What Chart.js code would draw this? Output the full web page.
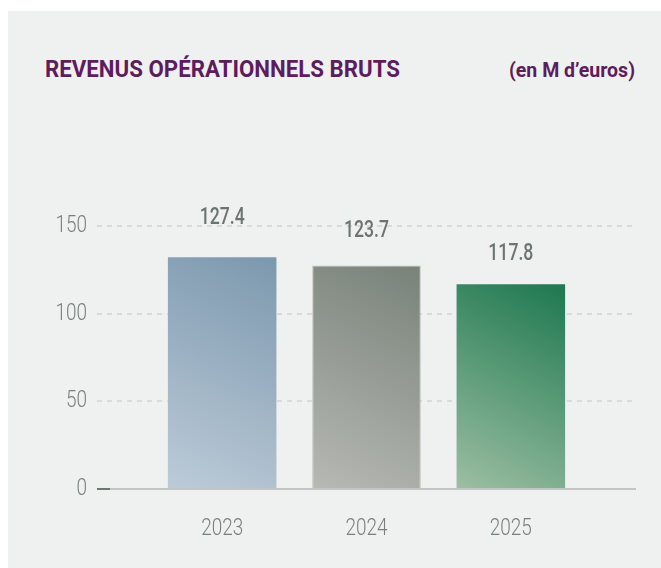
<!DOCTYPE html>
<html>
<head>
<meta charset="utf-8">
<script src="https://cdn.jsdelivr.net/npm/chart.js@4"></script>
<style>
  html, body { margin: 0; padding: 0; background: #fff; }
  #wrap { position: relative; width: 661px; height: 568px; overflow: hidden; }
  #panel { position: absolute; left: 8px; top: 11px; right: 0; bottom: 0; background: #eff1f0; }
  .head { position: absolute; color: #5e1b5f; font-family: Roboto, 'Liberation Sans', sans-serif; font-weight: bold; line-height: 1; white-space: nowrap; transform-origin: 0 0; }
  #title { left: 45px; top: 57px; font-size: 24px; }
  #unit { left: 509px; top: 60px; font-size: 20px; }
  canvas { position: absolute; left: 0; top: 0; }
</style>
</head>
<body>
<div id="wrap">
  <div id="panel"></div>
  <div class="head" id="title">REVENUS OPÉRATIONNELS BRUTS</div>
  <div class="head" id="unit">(en M d’euros)</div>
  <canvas id="barChart" width="661" height="568"></canvas>
</div>
<script>
// données
const years = ['2023', '2024', '2025'];
const barValues = [132.2, 127.5, 116.8];         // hauteur des barres
const valueLabels = ['127.4', '123.7', '117.8']; // valeurs affichées
const yTicks = [0, 50, 100, 150];

const FONT = "Roboto, 'Liberation Sans', sans-serif";
const barColors = [
  ['#bccbd8', '#7c98ae'],
  ['#b7b9b4', '#788279'],
  ['#9cbfa2', '#1d7850']
];
const labelOffsets = [39, 34, 30];

// police étroite : on comprime le texte horizontalement
function squeeze(el, width) {
  el.style.transform = 'scaleX(' + (width / el.getBoundingClientRect().width) + ')';
}
squeeze(document.getElementById('title'), 355);
squeeze(document.getElementById('unit'), 126);

function drawNarrow(ctx, text, x, y, align, sx) {
  const w = ctx.measureText(text).width * sx;
  let left = x - w / 2;
  if (align === 'right') left = x - w;
  ctx.save();
  ctx.translate(left, y);
  ctx.scale(sx, 1);
  ctx.textAlign = 'left';
  ctx.fillText(text, 0, 0);
  ctx.restore();
}

function barGradient(c) {
  const chart = c.chart;
  const i = c.dataIndex;
  if (!chart.chartArea) return barColors[i][1];
  const x = chart.scales.x, y = chart.scales.y;
  const cx = x.getPixelForValue(i);
  const half = chart.chartArea.width / years.length * 0.752 / 2;
  const g = chart.ctx.createLinearGradient(cx - half, y.getPixelForValue(0), cx + half, y.getPixelForValue(barValues[i]));
  g.addColorStop(0, barColors[i][0]);
  g.addColorStop(1, barColors[i][1]);
  return g;
}

// grille pointillée plus large que la zone du graphique
const gridLines = {
  id: 'gridLines',
  beforeDatasetsDraw(chart) {
    const { ctx, chartArea, scales: { y } } = chart;
    ctx.save();
    ctx.setLineDash([5, 5]);
    ctx.strokeStyle = '#d1d4d2';
    ctx.lineWidth = 1.5;
    y.ticks.forEach(t => {
      if (t.value === 0) return;
      const py = Math.round(y.getPixelForValue(t.value));
      ctx.beginPath();
      ctx.moveTo(chartArea.left - 53, py);
      ctx.lineTo(chartArea.right + 53, py);
      ctx.stroke();
    });
    ctx.restore();
  },
  afterDatasetsDraw(chart) {
    const { ctx, chartArea, scales: { y } } = chart;
    const py = y.getPixelForValue(0);
    ctx.save();
    ctx.lineWidth = 2;
    ctx.strokeStyle = '#c3c5c2';
    ctx.beginPath();
    ctx.moveTo(chartArea.left - 53, py);
    ctx.lineTo(chartArea.right + 53, py);
    ctx.stroke();
    ctx.strokeStyle = '#6f7771';
    ctx.beginPath();
    ctx.moveTo(chartArea.left - 53, py);
    ctx.lineTo(chartArea.left - 40, py);
    ctx.stroke();
    ctx.restore();
  }
};

// étiquettes des axes + valeurs au-dessus des barres
const narrowText = {
  id: 'narrowText',
  afterDatasetsDraw(chart) {
    const { ctx, chartArea, scales: { x, y } } = chart;
    ctx.save();
    ctx.textBaseline = 'middle';

    ctx.font = '300 24px ' + FONT;
    ctx.fillStyle = '#78807b';
    const sx = 42 / ctx.measureText('2023').width;
    years.forEach((t, i) => drawNarrow(ctx, t, x.getPixelForValue(i), chartArea.bottom + 40, 'center', sx));
    y.ticks.forEach(t => drawNarrow(ctx, String(t.value), chartArea.left - 63, y.getPixelForValue(t.value), 'right', sx));

    ctx.font = '500 24px ' + FONT;
    ctx.fillStyle = '#6c7470';
    const sv = 45 / ctx.measureText(valueLabels[0]).width;
    chart.getDatasetMeta(0).data.forEach((bar, i) => {
      drawNarrow(ctx, valueLabels[i], bar.x, bar.y - labelOffsets[i], 'center', sv);
    });
    ctx.restore();
  }
};

new Chart(document.getElementById('barChart'), {
  type: 'bar',
  data: {
    labels: years,
    datasets: [{
      data: barValues,
      backgroundColor: barGradient,
      borderColor: ['rgba(0,0,0,0)', '#bdbfbb', 'rgba(0,0,0,0)'],
      borderWidth: [0, 1, 0],
      borderSkipped: 'bottom',
      categoryPercentage: 1,
      barPercentage: 0.752
    }]
  },
  options: {
    responsive: false,
    animation: false,
    layout: { padding: { top: 226, right: 78, left: 0, bottom: 0 } },
    plugins: {
      legend: { display: false },
      tooltip: { enabled: false }
    },
    scales: {
      x: {
        afterFit: s => { s.height = 79; },
        grid: { display: false, drawTicks: false },
        border: { display: false },
        ticks: { display: false }
      },
      y: {
        min: 0,
        max: 150,
        afterBuildTicks: s => { s.ticks = yTicks.map(v => ({ value: v })); },
        afterFit: s => { s.width = 150; },
        grid: { display: false, drawTicks: false },
        border: { display: false },
        ticks: { display: false }
      }
    }
  },
  plugins: [gridLines, narrowText]
});
</script>
</body>
</html>
